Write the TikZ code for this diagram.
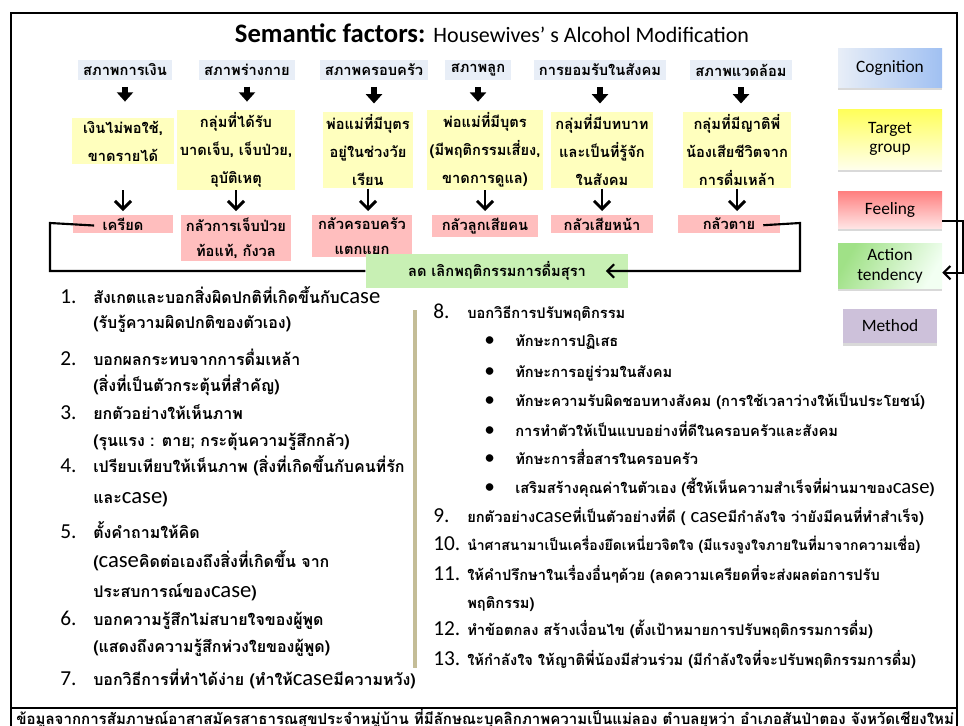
\documentclass[tikz,border=0pt]{standalone}
\usepackage{fontspec}
\setmainfont{Carlito}
\newfontfamily\thaifont[Script=Thai]{Loma}
\usetikzlibrary{arrows.meta,shadows}
\tikzset{>=latex}
\definecolor{mylightblue}{RGB}{232,238,247}
\definecolor{myblue}{RGB}{160,192,242}
\definecolor{mylightyellow}{RGB}{255,255,190}
\definecolor{mylightred}{RGB}{255,190,190}
\definecolor{mylightgreen}{RGB}{200,240,180}
\definecolor{mygreen}{RGB}{160,225,135}
\definecolor{mypurple}{RGB}{205,193,218}
\definecolor{mytan}{RGB}{196,189,151}
\newcommand\cse{{\normalfont\fontsize{17}{18}\selectfont case}}
\newcommand\cses{{\normalfont\fontsize{15.5}{16}\selectfont case}}
\newcommand\thb{\thaifont\bfseries}

\begin{document}
\begin{tikzpicture}[x=0.75pt,y=-0.75pt,
  lbl/.style={fill=mylightblue,inner xsep=4pt,inner ysep=3pt,font=\thb\fontsize{11}{13}\selectfont},
  grp/.style={fill=mylightyellow,align=center,inner sep=2pt,font=\thb\fontsize{11}{21}\selectfont},
  feel/.style={fill=mylightred,align=center,inner sep=2pt,font=\thb\fontsize{11}{18.5}\selectfont},
  legend/.style={minimum width=78pt,align=center,font=\fontsize{13}{14.5}\selectfont,
    drop shadow={shadow xshift=0pt,shadow yshift=-2pt,opacity=0.3}},
  item/.style={anchor=base west,inner sep=0pt,font=\thb\fontsize{12}{14}\selectfont},
  itemr/.style={item,font=\thb\fontsize{11}{13}\selectfont},
  num/.style={anchor=base west,inner sep=0pt,font=\fontsize{16}{18}\selectfont},
  blockarrow/.style={line width=4pt,-{Triangle[width=12pt,length=7pt]}},
  vee/.style={line width=2.2pt,-{Straight Barb[width=12pt,length=6pt]}},
  loopline/.style={line width=1.6pt},
]
  \useasboundingbox (0,0) rectangle (964,725);

  % frame
  \draw[line width=1.2pt] (11,735) |- (957,13) -- (957,735);
  \draw[line width=1.2pt] (11,708) -- (957,708);

  % title
  \node (title) at (492,33) {\fontsize{20}{22}\selectfont\bfseries Semantic factors:
    {\mdseries\fontsize{16.5}{18}\selectfont Housewives’ s Alcohol Modification}};

  % cognition
  \node[lbl] (c1) at (125,70) {สภาพการเงิน};
  \node[lbl] (c2) at (247,70) {สภาพร่างกาย};
  \node[lbl] (c3) at (374,70) {สภาพครอบครัว};
  \node[lbl] (c4) at (478,70) {สภาพลูก};
  \node[lbl] (c5) at (600,70) {การยอมรับในสังคม};
  \node[lbl] (c6) at (741,70) {สภาพแวดล้อม};

  % target group
  \node[grp,minimum width=77pt] (t1) at (123,141) {เงินไม่พอใช้,\\ขาดรายได้};
  \node[grp,minimum width=85pt] (t2) at (236,150) {กลุ่มที่ได้รับ\\บาดเจ็บ, เจ็บป่วย,\\อุบัติเหตุ};
  \node[grp,minimum width=68pt] (t3) at (368,150) {พ่อแม่ที่มีบุตร\\อยู่ในช่วงวัย\\เรียน};
  \node[grp,minimum width=84pt] (t4) at (485,150) {พ่อแม่ที่มีบุตร\\(มีพฤติกรรมเสี่ยง,\\ขาดการดูแล)};
  \node[grp,minimum width=76pt] (t5) at (602,150) {กลุ่มที่มีบทบาท\\และเป็นที่รู้จัก\\ในสังคม};
  \node[grp,minimum width=80pt] (t6) at (737,150) {กลุ่มที่มีญาติพี่\\น้องเสียชีวิตจาก\\การดื่มเหล้า};

  % feeling
  \node[feel,anchor=north,minimum width=75pt] (f1) at (123,215) {เครียด};
  \node[feel,anchor=north,minimum width=83pt] (f2) at (236,215) {กลัวการเจ็บป่วย\\ท้อแท้, กังวล};
  \node[feel,anchor=north,minimum width=75pt] (f3) at (362,215) {กลัวครอบครัว\\แตกแยก};
  \node[feel,anchor=north,minimum width=80pt] (f4) at (485,215) {กลัวลูกเสียคน};
  \node[feel,anchor=north,minimum width=76pt] (f5) at (602,215) {กลัวเสียหน้า};
  \node[feel,anchor=north,minimum width=77pt] (f6) at (729,215) {กลัวตาย};

  % action tendency
  \node[fill=mylightgreen,minimum width=197pt,minimum height=25pt,inner xsep=30pt,
    font=\thb\fontsize{11}{13}\selectfont] (act) at (497,271) {ลด เลิกพฤติกรรมการดื่มสุรา};

  % arrows
  \draw[blockarrow] ([yshift=-5pt]c1.south) -- ([yshift=6pt]c1.south |- t2.north);
  \draw[blockarrow] ([yshift=-5pt]c2.south) -- ([yshift=6pt]c2.south |- t2.north);
  \draw[blockarrow] ([yshift=-5pt]c3.south) -- ([yshift=6pt]c3.south |- t3.north);
  \draw[blockarrow] ([yshift=-5pt]c4.south) -- ([yshift=6pt]c4.south |- t4.north);
  \draw[blockarrow] ([yshift=-5pt]c5.south) -- ([yshift=6pt]c5.south |- t5.north);
  \draw[blockarrow] ([yshift=-5pt]c6.south) -- ([yshift=6pt]c6.south |- t6.north);
  \draw[vee] (t1.south |- t2.south) -- ([yshift=3pt]t1.south |- f1.north);
  \draw[vee] (t2.south) -- ([yshift=3pt]t2.south |- f2.north);
  \draw[vee] (t3.south) -- ([yshift=3pt]t3.south |- f3.north);
  \draw[vee] (t4.south) -- ([yshift=3pt]t4.south |- f4.north);
  \draw[vee] (t5.south) -- ([yshift=3pt]t5.south |- f5.north);
  \draw[vee] (t6.south) -- ([yshift=3pt]t6.south |- f6.north);

  % loop to action
  \draw[loopline] ([yshift=-1pt,xshift=16pt]f1.west) -- (50,223) |- (act.west);
  \draw[loopline,-{Straight Barb[width=10pt,length=5pt]}]
    ([yshift=-1pt,xshift=-13pt]f6.east) -- (800,223) |- ([xshift=-17pt]act.east);

  % legend
  \node[legend,minimum height=29pt,left color=mylightblue,right color=myblue] (lcog) at (890,68) {Cognition};
  \node[legend,minimum height=45pt,top color=yellow!65,bottom color=yellow!8] (ltgt) at (890,139) {Target\\group};
  \node[legend,minimum height=28pt,top color=red!50,bottom color=red!10] (lfeel) at (890,210) {Feeling};
  \node[legend,minimum height=34pt,left color=mygreen,right color=green!5,shading angle=60] (lact) at (890,266) {Action\\tendency};
  \node[legend,minimum width=70pt,minimum height=26pt,fill=mypurple] (lmeth) at (890,326) {Method};
  \draw[loopline,-{Straight Barb[width=10pt,length=5pt]}]
    ([yshift=-8pt]lfeel.east) -- ++(21,0) |- ([yshift=-5pt]lact.east);

  % method list, left
  \node[num] (n1) at (60,303) {1.};
  \node[item] (i1) at (93,303) {สังเกตและบอกสิ่งผิดปกติที่เกิดขึ้นกับ\cse};
  \node[item] (i1b) at (93,328) {(รับรู้ความผิดปกติของตัวเอง)};
  \node[num] (n2) at (60,365) {2.};
  \node[item] (i2) at (93,365) {บอกผลกระทบจากการดื่มเหล้า};
  \node[item] (i2b) at (93,391) {(สิ่งที่เป็นตัวกระตุ้นที่สำคัญ)};
  \node[num] (n3) at (60,419) {3.};
  \node[item] (i3) at (93,419) {ยกตัวอย่างให้เห็นภาพ};
  \node[item] (i3b) at (93,446) {(รุนแรง : ตาย; กระตุ้นความรู้สึกกลัว)};
  \node[num] (n4) at (60,472) {4.};
  \node[item] (i4) at (93,472) {เปรียบเทียบให้เห็นภาพ (สิ่งที่เกิดขึ้นกับคนที่รัก};
  \node[item] (i4b) at (93,503) {และ\cse)};
  \node[num] (n5) at (60,538) {5.};
  \node[item] (i5) at (93,538) {ตั้งคำถามให้คิด};
  \node[item] (i5b) at (93,567) {(\cse คิดต่อเองถึงสิ่งที่เกิดขึ้น จาก};
  \node[item] (i5c) at (93,597) {ประสบการณ์ของ\cse)};
  \node[num] (n6) at (60,625) {6.};
  \node[item] (i6) at (93,625) {บอกความรู้สึกไม่สบายใจของผู้พูด};
  \node[item] (i6b) at (93,652) {(แสดงถึงความรู้สึกห่วงใยของผู้พูด)};
  \node[num] (n7) at (60,685) {7.};
  \node[item] (i7) at (93,685) {บอกวิธีการที่ทำได้ง่าย (ทำให้\cse มีความหวัง)};

  % method list, right
  \draw[mytan,line width=2.5pt] (415,310) -- (415,668);
  \node[num] (n8) at (433,318) {8.};
  \node[itemr] (i8) at (467,318) {บอกวิธีการปรับพฤติกรรม};
  \node[num] (b1) at (484,346) {•};
  \node[itemr] (i8a) at (515,346) {ทักษะการปฏิเสธ};
  \node[num] (b2) at (484,377) {•};
  \node[itemr] (i8b) at (515,377) {ทักษะการอยู่ร่วมในสังคม};
  \node[num] (b3) at (484,406) {•};
  \node[itemr] (i8c) at (515,406) {ทักษะความรับผิดชอบทางสังคม (การใช้เวลาว่างให้เป็นประโยชน์)};
  \node[num] (b4) at (484,436) {•};
  \node[itemr] (i8d) at (515,436) {การทำตัวให้เป็นแบบอย่างที่ดีในครอบครัวและสังคม};
  \node[num] (b5) at (484,464) {•};
  \node[itemr] (i8e) at (515,464) {ทักษะการสื่อสารในครอบครัว};
  \node[num] (b6) at (484,493) {•};
  \node[itemr] (i8f) at (515,493) {เสริมสร้างคุณค่าในตัวเอง (ชี้ให้เห็นความสำเร็จที่ผ่านมาของ\cses)};
  \node[num] (n9) at (433,522) {9.};
  \node[itemr] (i9) at (467,522) {ยกตัวอย่าง\cses ที่เป็นตัวอย่างที่ดี ( \cses มีกำลังใจ ว่ายังมีคนที่ทำสำเร็จ)};
  \node[num] (n10) at (433,550) {10.};
  \node[itemr,font=\thb\fontsize{10.5}{13}\selectfont] (i10) at (467,550) {นำศาสนามาเป็นเครื่องยึดเหนี่ยวจิตใจ (มีแรงจูงใจภายในที่มาจากความเชื่อ)};
  \node[num] (n11) at (433,580) {11.};
  \node[itemr] (i11) at (467,580) {ให้คำปรึกษาในเรื่องอื่นๆด้วย (ลดความเครียดที่จะส่งผลต่อการปรับ};
  \node[itemr] (i11b) at (467,608) {พฤติกรรม)};
  \node[num] (n12) at (433,635) {12.};
  \node[itemr] (i12) at (467,635) {ทำข้อตกลง สร้างเงื่อนไข (ตั้งเป้าหมายการปรับพฤติกรรมการดื่ม)};
  \node[num] (n13) at (433,665) {13.};
  \node[itemr] (i13) at (467,665) {ให้กำลังใจ ให้ญาติพี่น้องมีส่วนร่วม (มีกำลังใจที่จะปรับพฤติกรรมการดื่ม)};

  % source
  \node[anchor=west,inner sep=0pt,font=\thb\fontsize{11.3}{13}\selectfont] (src) at (16,719)
    {ข้อมูลจากการสัมภาษณ์อาสาสมัครสาธารณสุขประจำหมู่บ้าน ที่มีลักษณะบุคลิกภาพความเป็นแม่ลอง ตำบลยุหว่า อำเภอสันป่าตอง จังหวัดเชียงใหม่};
\end{tikzpicture}
\end{document}
